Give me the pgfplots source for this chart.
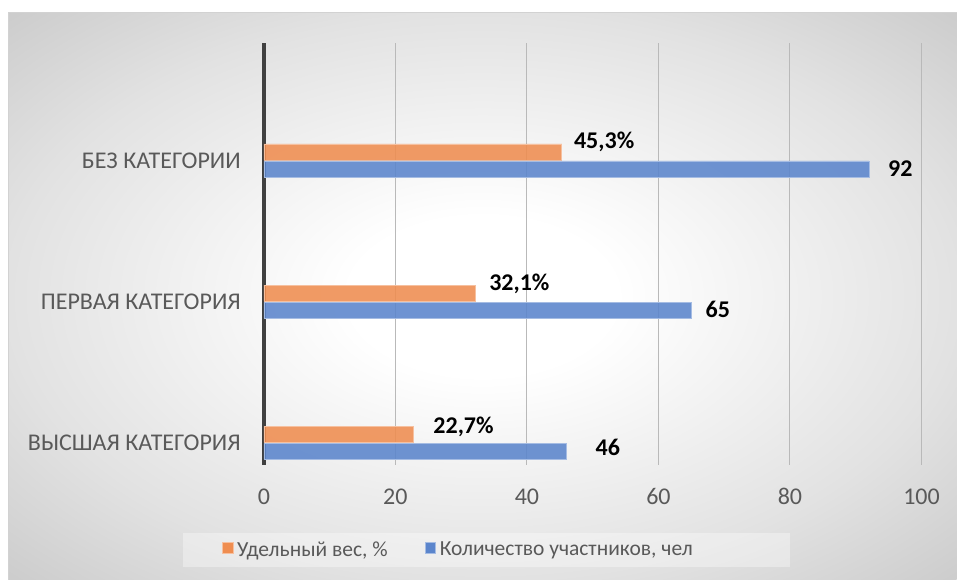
\documentclass[border=0pt]{standalone}
\usepackage{fontspec}
\setmainfont{Carlito}
\usepackage{pgfplots}
\pgfplotsset{compat=1.18}
\usepackage{pgfplotstable}

\definecolor{cOr}{RGB}{239,141,80}
\definecolor{cBl}{RGB}{91,133,204}
\definecolor{tickc}{RGB}{89,89,89}
\definecolor{gridc}{RGB}{185,185,185}
\definecolor{axc}{RGB}{64,64,64}
\definecolor{bgA}{RGB}{226,226,226}
\definecolor{bgB}{RGB}{203,203,203}
\pgfdeclareradialshading{chartbg}{\pgfpoint{0bp}{0bp}}{color(0bp)=(white); color(7bp)=(white); color(25bp)=(bgA); color(36bp)=(bgB); color(50bp)=(bgB)}

\pgfplotstableread{
y x dx dy
0 22.7 20 7
1 32.1 14 9.5
2 45.3 12 10
}\orangetab
\pgfplotstableread{
y x dx dy
0 46 29 3.5
1 65 14 1
2 92 19 0
}\bluetab

\begin{document}
\begin{tikzpicture}
\fill[white] (0pt,0pt) rectangle (957pt,580pt);
\shade[shading=chartbg] (8.5pt,0pt) rectangle (957pt,567pt);
\draw[gray!35, line width=1pt] (8.5pt,0pt) -- (8.5pt,567pt) -- (957pt,567pt);
\fill[white, opacity=0.35] (183pt,13pt) rectangle (790pt,47pt);
\begin{axis}[
  at={(264pt,115pt)}, anchor=south west,
  scale only axis, width=658pt, height=422pt,
  xmin=0, xmax=100, ymin=-0.1557, ymax=2.832,
  xtick={0,20,...,100}, ytick={0,1,2},
  yticklabels={ВЫСШАЯ КАТЕГОРИЯ, ПЕРВАЯ КАТЕГОРИЯ, БЕЗ КАТЕГОРИИ},
  major tick length=0pt,
  axis lines=left,
  axis line style={-, draw=axc, line width=3.5pt},
  x axis line style={draw=none},
  xmajorgrids, major grid style={gridc, line width=1pt},
  tick label style={font=\fontsize{24}{28}\selectfont, text=tickc},
  /pgf/number format/assume math mode=true,
  xticklabel style={anchor=base, yshift=-40pt},
  yticklabel style={anchor=east, inner sep=0pt, xshift=-23pt},
  xbar, bar width=16pt,
  point meta=x,
  visualization depends on={\thisrow{dx} \as \dx},
  visualization depends on={\thisrow{dy} \as \dy},
  nodes near coords style={anchor=west, inner sep=0pt, xshift=\dx pt, yshift=\dy pt,
    font=\bfseries\fontsize{24}{28}\selectfont, text=black, fill opacity=1, text opacity=1},
  legend style={at={(-0.0638,-0.2014)}, anchor=west, draw=none, fill=none,
    inner sep=0pt, font=\fontsize{21.5}{25}\selectfont, text=tickc,
    nodes={inner sep=0pt},
    /tikz/every odd column/.append style={column sep=4pt},
    /tikz/every even column/.append style={column sep=37pt}},
  legend columns=2,
  legend image code/.code={\fill[#1, fill opacity=1] (0pt,-4pt) rectangle (10.5pt,7pt);},
]
\addplot[fill=cOr, fill opacity=0.88, draw=cOr!55!white, line width=0.6pt, bar shift=8.5pt,
  nodes near coords={\pgfmathprintnumber[fixed, fixed zerofill, precision=1, use comma]{\pgfplotspointmeta}\%}]
  table[x=x, y=y] {\orangetab};
\addlegendentry{Удельный вес, \%}
\addplot[fill=cBl, fill opacity=0.88, draw=cBl!55!white, line width=0.6pt, bar shift=-8.5pt,
  nodes near coords={\pgfmathprintnumber[fixed, precision=0]{\pgfplotspointmeta}}]
  table[x=x, y=y] {\bluetab};
\addlegendentry{Количество участников, чел}
\end{axis}
\end{tikzpicture}
\end{document}
